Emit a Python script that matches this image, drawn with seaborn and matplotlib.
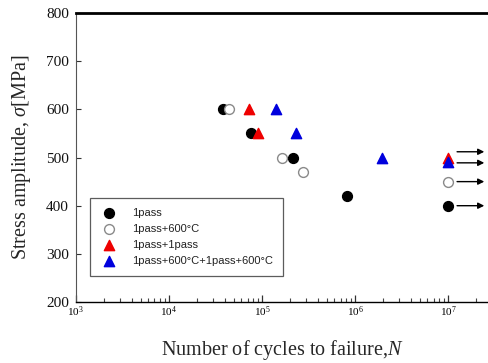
import numpy as np
import pandas as pd
import matplotlib
matplotlib.use("Agg")
import matplotlib.pyplot as plt
from matplotlib.ticker import FixedLocator, NullFormatter
import seaborn as sns

# Fatigue test results: cycles to failure and stress amplitude (MPa)
labels = ["1pass", "1pass+600°C", "1pass+1pass", "1pass+600°C+1pass+600°C"]
cycles_1pass = [3.8e4, 7.6e4, 2.14e5, 8.3e5, 1.0e7]
stress_1pass = [600, 550, 500, 420, 400]
cycles_1pass_600 = [4.4e4, 1.66e5, 2.76e5, 1.0e7]
stress_1pass_600 = [600, 500, 470, 450]
cycles_2pass = [7.2e4, 9.1e4, 1.0e7]
stress_2pass = [600, 550, 500]
cycles_2pass_600 = [1.4e5, 2.35e5, 1.95e6, 1.0e7]
stress_2pass_600 = [600, 550, 500, 490]

# Run-out specimens (no failure): arrow levels
runout_levels = [512, 489, 450, 400]
runout_start, runout_end = 1.25e7, 2.45e7

sns.set_theme(style="ticks")
plt.rcParams["font.family"] = ["Liberation Serif", "DejaVu Serif"]
plt.rcParams["mathtext.fontset"] = "custom"
plt.rcParams["mathtext.rm"] = "Liberation Serif"
plt.rcParams["mathtext.it"] = "Liberation Serif:italic"
plt.rcParams["xtick.direction"] = "in"
plt.rcParams["ytick.direction"] = "in"

frames = []
for lab, xs, ys in [(labels[0], cycles_1pass, stress_1pass),
                    (labels[1], cycles_1pass_600, stress_1pass_600),
                    (labels[2], cycles_2pass, stress_2pass),
                    (labels[3], cycles_2pass_600, stress_2pass_600)]:
    frames.append(pd.DataFrame({"N": xs, "S": ys, "cond": lab}))
df = pd.concat(frames, ignore_index=True)

styles = {
    labels[0]: dict(marker="o", color="black", edgecolor="black", s=50),
    labels[1]: dict(marker="o", color="white", edgecolor="#8a8a8a", s=50),
    labels[2]: dict(marker="^", color="#ee0000", edgecolor="#ee0000", s=55),
    labels[3]: dict(marker="^", color="#0000dd", edgecolor="#0000dd", s=55),
}

fig = plt.figure(figsize=(4.89, 3.63), dpi=100)
ax = fig.add_axes([0.155, 0.168, 0.845, 0.796])

for lab in labels:
    sub = df[df["cond"] == lab]
    st = styles[lab]
    sns.scatterplot(data=sub, x="N", y="S", ax=ax, marker=st["marker"],
                    color=st["color"], edgecolor=st["edgecolor"], s=st["s"],
                    linewidth=1.0, label=lab, zorder=3)

for lvl in runout_levels:
    ax.annotate("", xy=(runout_end, lvl), xytext=(runout_start, lvl),
                arrowprops=dict(arrowstyle="-|>", color="black", lw=1.0,
                                mutation_scale=9, shrinkA=0, shrinkB=0))

ax.set_xscale("log")
ax.set_xlim(1e3, 10 ** 7.44)
ax.set_ylim(200, 800)
ax.set_yticks(range(200, 801, 100))
ax.set_xticks([1e3, 1e4, 1e5, 1e6, 1e7])
minor_pos = [m * 10 ** d for d in range(3, 8) for m in range(2, 10)]
ax.xaxis.set_minor_locator(FixedLocator(minor_pos))
ax.xaxis.set_minor_formatter(NullFormatter())
ax.yaxis.set_minor_locator(FixedLocator([]))

ax.spines["right"].set_visible(False)
ax.spines["top"].set_visible(True)
ax.spines["top"].set_linewidth(2.0)
ax.spines["top"].set_color("black")
ax.spines["left"].set_color("#555555")
ax.spines["left"].set_linewidth(0.8)
ax.spines["bottom"].set_color("black")
ax.spines["bottom"].set_linewidth(1.0)

ax.tick_params(axis="x", which="major", direction="in", length=5, width=0.9,
               labelsize=8, color="#333333", labelcolor="black", pad=2,
               bottom=True, top=False)
ax.tick_params(axis="x", which="minor", direction="in", length=2.8, width=0.8,
               color="#444444", bottom=True, top=False)
ax.tick_params(axis="y", which="major", direction="in", length=3.5, width=0.8,
               labelsize=11, color="#333333", labelcolor="#111111", pad=5,
               left=True, right=False)

ax.set_xlabel(r"Number of cycles to failure,$\mathit{N}$", fontsize=14.5)
ax.set_ylabel(r"Stress amplitude, $\mathit{\sigma}$[MPa]", fontsize=14.5)
ax.xaxis.set_label_coords(0.5, -0.166)
ax.xaxis.label.set_va("center")
ax.yaxis.set_label_coords(-0.131, 0.5)
ax.yaxis.label.set_va("center")

leg = ax.legend(loc="lower left", bbox_to_anchor=(0.034, 0.09), frameon=True,
                fancybox=False, edgecolor="#333333",
                prop={"family": ["Liberation Sans", "DejaVu Sans"], "size": 8},
                handletextpad=1.3, borderpad=0.9, labelspacing=0.55,
                handlelength=1.6, borderaxespad=0)
leg.get_frame().set_linewidth(0.9)
for t in leg.get_texts():
    t.set_color("#222222")

fig.savefig("out.png", dpi=100)
